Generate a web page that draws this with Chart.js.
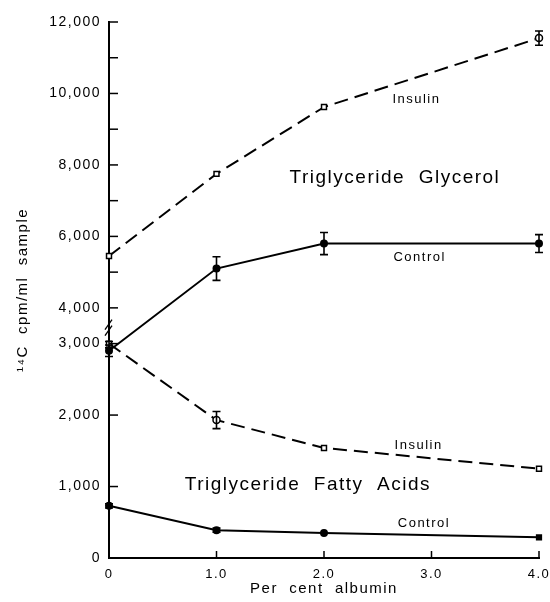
<!DOCTYPE html>
<html>
<head>
<meta charset="utf-8">
<script src="https://cdn.jsdelivr.net/npm/chart.js@4"></script>
<style>
html, body { margin: 0; padding: 0; background: #fff; }
#wrap { width: 550px; height: 602px; }
</style>
</head>
<body>
<div id="wrap"><canvas id="albumin-chart" width="550" height="602"></canvas></div>
<script>
// per cent albumin
var albumin = [0, 1.0, 2.0, 4.0];

// 14C cpm/ml sample
var glycerolInsulin = [5450, 7750, 9620, 11550];
var glycerolInsulinErr = [0, 0, 0, 200];
var glycerolControl = [2900, 5100, 5800, 5800];
var glycerolControlErr = [80, 330, 310, 250];
var fattyInsulin = [3000, 1930, 1540, 1250];
var fattyInsulinErr = [60, 120, 0, 0];
var fattyControl = [730, 390, 350, 290];
var fattyControlErr = [30, 30, 0, 0];

var yTickValues = [0, 1000, 2000, 3000, 4000, 6000, 8000, 10000, 12000];
var yMinorValues = [5000, 7000, 9000, 11000];
var xTickValues = [0, 1, 2, 3, 4];

var notes = [
    { text: "Insulin", x: 2.86, y: 9820, size: 13 },
    { text: "Triglyceride  Glycerol", x: 2.66, y: 7630, size: 19 },
    { text: "Control", x: 2.89, y: 5400, size: 13 },
    { text: "Insulin", x: 2.88, y: 1580, size: 13 },
    { text: "Triglyceride  Fatty  Acids", x: 1.85, y: 1020, size: 19 },
    { text: "Control", x: 2.93, y: 490, size: 13 }
];

// broken axis: above 3000 the scale is halved
function brk(v) {
    return v <= 3000 ? v / 1000 : 1.5 + v / 2000;
}

function pts(values) {
    return albumin.map(function (a, i) { return { x: a, y: brk(values[i]) }; });
}

var errs = [glycerolInsulinErr, glycerolControlErr, fattyInsulinErr, fattyControlErr];
var vals = [glycerolInsulin, glycerolControl, fattyInsulin, fattyControl];

var FONT = "'Liberation Sans', Arial, sans-serif";

var spacing = {
    id: 'spacing',
    beforeInit: function (chart) { chart.ctx.letterSpacing = '1.5px'; },
    beforeUpdate: function (chart) { chart.ctx.letterSpacing = '1.5px'; },
    beforeDraw: function (chart) { chart.ctx.letterSpacing = '1.5px'; }
};

var extras = {
    id: 'extras',
    afterDatasetsDraw: function (chart) {
        var c = chart.ctx, xs = chart.scales.x, ys = chart.scales.y;
        c.save();
        c.strokeStyle = '#000';
        c.fillStyle = '#000';

        // error bars
        c.lineWidth = 1.6;
        vals.forEach(function (v, d) {
            albumin.forEach(function (a, i) {
                var e = errs[d][i];
                if (!e) return;
                var px = xs.getPixelForValue(a);
                var t = ys.getPixelForValue(brk(v[i] + e));
                var b = ys.getPixelForValue(brk(v[i] - e));
                c.beginPath();
                c.moveTo(px, t); c.lineTo(px, b);
                c.moveTo(px - 4, t); c.lineTo(px + 4, t);
                c.moveTo(px - 4, b); c.lineTo(px + 4, b);
                c.stroke();
            });
        });

        // inward ticks
        c.lineWidth = 1.5;
        var x0 = xs.left, y0 = ys.bottom;
        yTickValues.concat(yMinorValues).forEach(function (v) {
            if (v === 0) return;
            var py = ys.getPixelForValue(brk(v));
            c.beginPath(); c.moveTo(x0, py); c.lineTo(x0 + 9, py); c.stroke();
        });
        xTickValues.forEach(function (v) {
            if (v === 0) return;
            var px = xs.getPixelForValue(v);
            c.beginPath(); c.moveTo(px, y0); c.lineTo(px, y0 - 7); c.stroke();
        });

        // axis break marks
        var by = ys.getPixelForValue(brk(3500)) + 2;
        c.lineWidth = 1.3;
        [-3, 3].forEach(function (o) {
            c.beginPath();
            c.moveTo(x0 - 4, by + o + 5);
            c.lineTo(x0 + 3, by + o - 5);
            c.stroke();
        });

        // labels
        c.textAlign = 'center';
        c.textBaseline = 'middle';
        notes.forEach(function (n) {
            c.font = n.size + 'px ' + FONT;
            c.fillText(n.text, xs.getPixelForValue(n.x), ys.getPixelForValue(brk(n.y)));
        });
        c.restore();
    }
};

var ctx = document.getElementById('albumin-chart');
new Chart(ctx, {
    type: 'line',
    data: {
        datasets: [{
            data: pts(glycerolInsulin),
            borderColor: '#000',
            borderWidth: 2,
            borderDash: [14, 7],
            pointStyle: ['rect', 'rect', 'rect', 'circle'],
            pointRadius: 3.5,
            pointBackgroundColor: '#fff',
            pointBorderColor: '#000',
            pointBorderWidth: 1.5,
            fill: false
        }, {
            data: pts(glycerolControl),
            borderColor: '#000',
            borderWidth: 2,
            pointStyle: 'circle',
            pointRadius: 3,
            pointBackgroundColor: '#000',
            pointBorderColor: '#000',
            fill: false
        }, {
            data: pts(fattyInsulin),
            borderColor: '#000',
            borderWidth: 2,
            borderDash: [14, 7],
            pointStyle: ['rect', 'circle', 'rect', 'rect'],
            pointRadius: 3.5,
            pointBackgroundColor: '#fff',
            pointBorderColor: '#000',
            pointBorderWidth: 1.5,
            fill: false
        }, {
            data: pts(fattyControl),
            borderColor: '#000',
            borderWidth: 2,
            pointStyle: ['circle', 'circle', 'circle', 'rect'],
            pointRadius: 3,
            pointBackgroundColor: '#000',
            pointBorderColor: '#000',
            fill: false
        }]
    },
    options: {
        responsive: false,
        animation: false,
        clip: false,
        layout: { padding: { top: 22, right: 11, left: 0, bottom: 0 } },
        plugins: {
            legend: { display: false },
            title: { display: false },
            tooltip: { enabled: false }
        },
        scales: {
            x: {
                type: 'linear',
                min: 0,
                max: 4,
                afterFit: function (s) {
                    s.height = 44;
                    s.paddingLeft = 0;
                    s.paddingRight = 0;
                },
                afterBuildTicks: function (s) {
                    s.ticks = xTickValues.map(function (v) { return { value: v }; });
                },
                grid: { display: false },
                border: { display: true, color: '#000', width: 2 },
                ticks: {
                    color: '#000',
                    padding: 1,
                    font: { family: FONT, size: 13 },
                    callback: function (v) { return v === 0 ? '0' : v.toFixed(1); }
                },
                title: {
                    display: true,
                    text: 'Per  cent  albumin',
                    color: '#000',
                    font: { family: FONT, size: 15 },
                    padding: { top: 0, bottom: 4 }
                }
            },
            y: {
                type: 'linear',
                min: 0,
                max: 7.5,
                afterFit: function (s) {
                    s.width = 109;
                    s.paddingTop = 0;
                    s.paddingBottom = 0;
                },
                afterBuildTicks: function (s) {
                    s.ticks = yTickValues.map(function (v) { return { value: brk(v) }; });
                },
                grid: { display: false },
                border: { display: true, color: '#000', width: 2 },
                ticks: {
                    color: '#000',
                    padding: 0,
                    font: { family: FONT, size: 14 },
                    callback: function (v, i) { return yTickValues[i].toLocaleString('en-US'); }
                },
                title: {
                    display: true,
                    text: '\u00b9\u2074C  cpm/ml  sample',
                    color: '#000',
                    font: { family: FONT, size: 15 },
                    padding: { top: 14, bottom: 0 }
                }
            }
        }
    },
    plugins: [spacing, extras]
});
</script>
</body>
</html>
